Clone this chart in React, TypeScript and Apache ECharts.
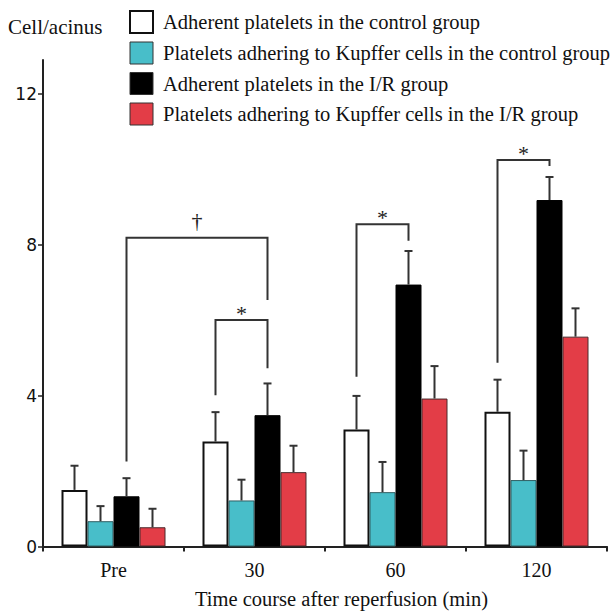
import React, { useEffect, useRef } from "react";
import * as echarts from "echarts";

// ---- data ----
const categories = ["Pre", "30", "60", "120"];
const seriesNames = [
  "Adherent platelets in the control group",
  "Platelets adhering to Kupffer cells in the control group",
  "Adherent platelets in the I/R group",
  "Platelets adhering to Kupffer cells in the I/R group",
];
const ctrlAdherent = [1.5, 2.78, 3.1, 3.57];
const ctrlAdherentErr = [0.64, 0.78, 0.89, 0.85];
const ctrlKupffer = [0.67, 1.22, 1.44, 1.76];
const ctrlKupfferErr = [0.4, 0.55, 0.8, 0.78];
const irAdherent = [1.33, 3.48, 6.94, 9.18];
const irAdherentErr = [0.48, 0.84, 0.89, 0.61];
const irKupffer = [0.51, 1.97, 3.92, 5.56];
const irKupfferErr = [0.49, 0.7, 0.86, 0.75];
const yTicks = [0, 4, 8, 12];
const yMax = 12.89;
// significance brackets: [category, bar] endpoints, and y levels (left bottom, top, right bottom)
const bracketMarks = ["\u2020", "*", "*", "*"];
const bracketFrom = [[0, 2], [1, 0], [2, 0], [3, 0]];
const bracketTo = [[1, 2], [1, 2], [2, 2], [3, 2]];
const bracketLevels = [
  [2.25, 8.18, 6.53],
  [4.01, 6.0, 4.72],
  [4.5, 8.54, 8.1],
  [4.87, 10.24, 10.08],
];

const BAR_W = 26;
const SERIF = '"Liberation Serif", "Times New Roman", serif';
const INK = "#222";

export default function App() {
  const ref = useRef<HTMLDivElement>(null);
  useEffect(() => {
    if (!ref.current) return;
    const chart = echarts.init(ref.current, null, { renderer: "svg" });
    const means = [ctrlAdherent, ctrlKupffer, irAdherent, irKupffer];
    const errs = [ctrlAdherentErr, ctrlKupfferErr, irAdherentErr, irKupfferErr];
    const styles = [
      { color: "#ffffff", borderColor: "#111", borderWidth: 2 },
      { color: "#48BEC9", borderColor: "#2f5f63", borderWidth: 1 },
      { color: "#000000", borderColor: "#000", borderWidth: 1 },
      { color: "#E33D47", borderColor: "#4a2a2c", borderWidth: 1 },
    ];
    const errData: number[][] = [];
    means.forEach((arr, b) =>
      arr.forEach((m, c) => errData.push([c, b, m, errs[b][c]]))
    );
    const bracketData = bracketMarks.map((_, i) => [
      bracketFrom[i][0],
      bracketFrom[i][1],
      bracketTo[i][0],
      bracketTo[i][1],
      bracketLevels[i][0],
      bracketLevels[i][1],
      bracketLevels[i][2],
      i,
    ]);

    const option: any = {
      animation: false,
      legend: {
        orient: "vertical",
        left: 129,
        top: 10,
        padding: 0,
        icon: "rect",
        itemWidth: 23,
        itemHeight: 22,
        itemGap: 7.5,
        textStyle: {
          fontFamily: SERIF,
          fontSize: 20.5,
          lineHeight: 22,
          color: "#111",
          padding: [0, 0, 0, 5],
        },
        data: seriesNames.map((n, i) => ({
          name: n,
          itemStyle: { borderColor: i === 0 ? "#111" : "#333", borderWidth: i === 0 ? 2 : 1 },
        })),
      },
      grid: { left: 43, right: 7, top: 60, bottom: 65.5 },
      xAxis: {
        type: "category",
        data: categories,
        axisLine: { lineStyle: { color: INK, width: 2 } },
        axisTick: { show: true, length: 5, lineStyle: { color: INK, width: 2 } },
        axisLabel: { fontFamily: SERIF, fontSize: 20, color: "#111", margin: 13 },
      },
      yAxis: {
        type: "value",
        min: 0,
        max: yMax,
        interval: 4,
        splitLine: { show: false },
        axisLine: { show: true, lineStyle: { color: INK, width: 2 } },
        axisTick: { show: true, length: 5, lineStyle: { color: INK, width: 1.5 }, customValues: yTicks },
        axisLabel: {
          fontFamily: '"DejaVu Sans", Verdana, sans-serif',
          fontSize: 17,
          color: "#111",
          margin: 6,
          customValues: yTicks,
        },
      },
      graphic: [
        {
          type: "text",
          left: 8,
          top: 16,
          style: {
            text: "Cell/acinus",
            font: `21px ${SERIF}`,
            fill: "#111",
          },
        },
        {
          type: "text",
          left: 195,
          top: 588,
          style: {
            text: "Time course after reperfusion (min)",
            font: `20.5px ${SERIF}`,
            fill: "#111",
          },
        },
      ],
      series: [
        ...seriesNames.map((n, i) => ({
          name: n,
          type: "bar",
          data: means[i],
          barWidth: BAR_W,
          barGap: "0%",
          itemStyle: styles[i],
        })),
        {
          type: "custom",
          name: "err",
          data: errData,
          encode: { x: 0, y: 2 },
          clip: false,
          z: 5,
          renderItem: (params: any, api: any) => {
            const cat = api.value(0);
            const bar = api.value(1);
            const m = api.value(2);
            const e = api.value(3);
            const base = api.coord([cat, m]);
            const top = api.coord([cat, m + e]);
            const x = base[0] + (bar - 1.5) * BAR_W;
            const st = { stroke: "#333", lineWidth: 2 };
            return {
              type: "group",
              children: [
                { type: "line", shape: { x1: x, y1: base[1], x2: x, y2: top[1] }, style: st },
                { type: "line", shape: { x1: x - 4, y1: top[1], x2: x + 4, y2: top[1] }, style: st },
              ],
            };
          },
        },
        {
          type: "custom",
          name: "brackets",
          data: bracketData,
          encode: { x: 0, y: 5 },
          clip: false,
          z: 5,
          renderItem: (params: any, api: any) => {
            const c1 = api.value(0);
            const b1 = api.value(1);
            const c2 = api.value(2);
            const b2 = api.value(3);
            const lb = api.value(4);
            const tp = api.value(5);
            const rb = api.value(6);
            const idx = api.value(7);
            const p1 = api.coord([c1, lb]);
            const pt = api.coord([c1, tp]);
            const p2 = api.coord([c2, rb]);
            const x1 = p1[0] + (b1 - 1.5) * BAR_W;
            const x2 = p2[0] + (b2 - 1.5) * BAR_W;
            const yT = pt[1];
            const mark = bracketMarks[idx];
            const isDagger = mark !== "*";
            return {
              type: "group",
              children: [
                {
                  type: "polyline",
                  shape: { points: [[x1, p1[1]], [x1, yT], [x2, yT], [x2, p2[1]]] },
                  style: { stroke: "#333", lineWidth: 2, fill: "none" },
                },
                {
                  type: "text",
                  x: (x1 + x2) / 2,
                  y: isDagger ? yT - 6 : yT + 4,
                  style: {
                    text: mark,
                    font: `22px ${SERIF}`,
                    fill: "#222",
                    align: "center",
                    verticalAlign: "bottom",
                  },
                },
              ],
            };
          },
        },
      ],
    };
    chart.setOption(option);
    return () => chart.dispose();
  }, []);
  return (
    <div
      ref={ref}
      style={{ position: "absolute", left: 0, top: 0, width: 614, height: 612, background: "#fff" }}
    />
  );
}
